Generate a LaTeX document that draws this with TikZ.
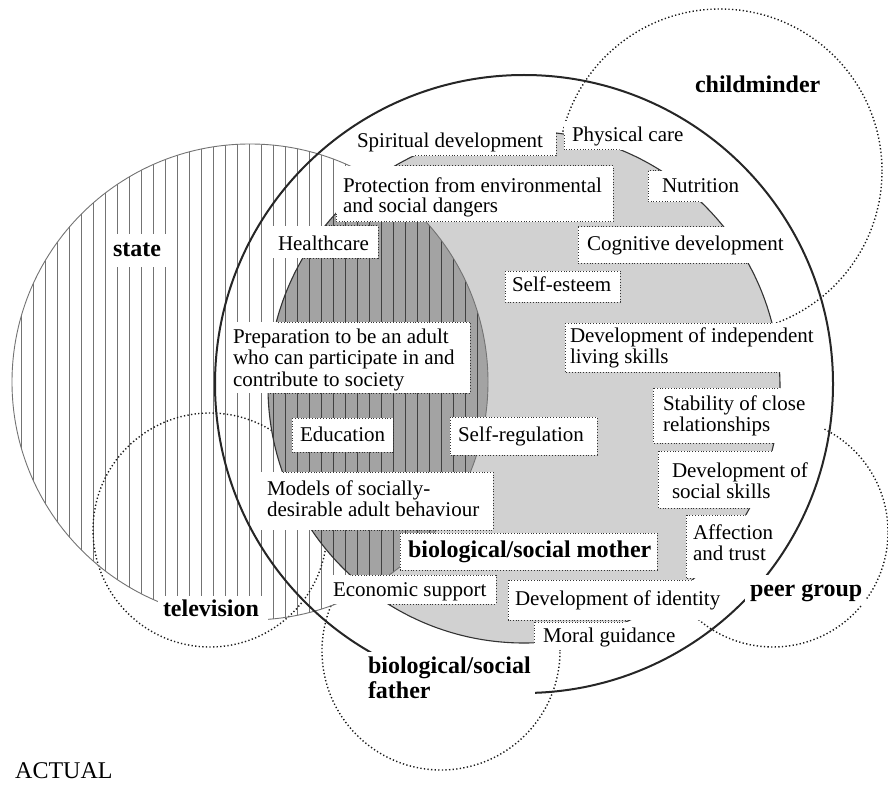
\documentclass[tikz,border=0pt]{standalone}
\usepackage{fontspec}
\setmainfont{Liberation Serif}
\newcommand\fnbox[5]{%
  \node[fbox, minimum width={(#4-#2)*1pt}, minimum height={(#5-#3)*1pt}] (#1) at (#2,#3) {};
  \begin{scope}\clip (524,387) circle[radius=256pt];
    \draw[bdr] (#1.north west) rectangle (#1.south east);
  \end{scope}}
\newcommand\whitebx[5]{%
  \node[fbox, minimum width={(#4-#2)*1pt}, minimum height={(#5-#3)*1pt}] (#1) at (#2,#3) {};}
\begin{document}
\begin{tikzpicture}[x=1pt,y=-1pt,
  mainc/.style={draw=black!85, line width=2pt},
  graycirc/.style={draw=black!80, line width=1.1pt},
  statec/.style={draw=black!55, line width=0.9pt},
  dotc/.style={draw=black!90, line width=1.4pt, dash pattern=on 1.3pt off 2.3pt},
  stripe/.style={draw=black!55, line width=0.9pt},
  fbox/.style={fill=white, inner sep=0pt, outer sep=0pt, anchor=north west, rectangle},
  bdr/.style={draw=black!80, line width=1pt, dash pattern=on 1pt off 1.8pt},
  tx/.style={anchor=base west, inner sep=0pt, outer sep=0pt, font=\fontsize{21pt}{21pt}\selectfont},
  bx/.style={anchor=base west, inner sep=0pt, outer sep=0pt, font=\fontsize{24pt}{24pt}\selectfont\bfseries},
]
\path[use as bounding box] (0,0) rectangle (888,786);
\fill[white] (0,0) rectangle (888,786);

% stripes of the state circle
\begin{scope}
  \clip (250,382) circle[radius=238pt];
  \foreach \x in {21.5,33.5,...,490} \draw[stripe] (\x,140) -- (\x,625);
\end{scope}

% dotted circles
\draw[dotc] (720,171) circle[radius=162pt];
\draw[dotc] (773,532) circle[radius=115pt];
\draw[dotc] (210,530) circle[radius=117pt];
\draw[dotc] (441,651) circle[radius=119pt];

% grey inner region
\fill[black!18] (524,387) circle[radius=256pt];
\begin{scope}
  \clip (250,382) circle[radius=238pt];
  \fill[black!36] (524,387) circle[radius=256pt];
  \clip (524,387) circle[radius=256pt];
  \foreach \x in {21.5,33.5,...,490} \draw[stripe, draw=black!75] (\x,140) -- (\x,625);
\end{scope}
\draw[statec] (250,382) circle[radius=238pt];
\draw[graycirc] (524,387) circle[radius=256pt];

% label boxes
\fnbox{b1}{350}{126}{556}{156}
\fnbox{b2}{564}{121}{694}{150}
\fnbox{b3}{336}{166}{613}{222}
\fnbox{b4}{648}{171}{750}{202}
\fnbox{b5}{272}{226}{378}{258}
\fnbox{b6}{578}{227}{796}{263}
\fnbox{b7}{505}{271}{620}{302}
\fnbox{b8}{226}{322}{470}{393}
\fnbox{b9}{565}{323}{826}{372}
\fnbox{b10}{653}{388}{823}{443}
\fnbox{b11}{292}{418}{393}{452}
\fnbox{b12}{450}{417}{597}{455}
\fnbox{b13}{658}{451}{816}{508}
\fnbox{b14}{261}{472}{493}{530}
\fnbox{b15}{686}{515}{782}{578}
\fnbox{b16}{400}{533}{657}{570}
\fnbox{b17}{327}{575}{496}{604}
\fnbox{b18}{508}{580}{732}{620}
\fnbox{b19}{534}{622}{685}{650}

% label texts
\node[tx] (t1) at (357,148) {Spiritual development};
\node[tx] (t2) at (572,142) {Physical care};
\node[tx] (t3a) at (343,193) {Protection from environmental};
\node[tx] (t3b) at (343,213) {and social dangers};
\node[tx] (t4) at (662,193) {Nutrition};
\node[tx] (t5) at (278,251) {Healthcare};
\node[tx] (t6) at (587,251) {Cognitive development};
\node[tx] (t7) at (512,291) {Self-esteem};
\node[tx] (t8a) at (233,343) {Preparation to be an adult};
\node[tx] (t8b) at (233,364) {who can participate in and};
\node[tx] (t8c) at (233,386) {contribute to society};
\node[tx] (t9a) at (570,342) {Development of independent};
\node[tx] (t9b) at (570,363) {living skills};
\node[tx] (t10a) at (663,410) {Stability of close};
\node[tx] (t10b) at (663,431) {relationships};
\node[tx] (t11) at (300,441) {Education};
\node[tx] (t12) at (458,441) {Self-regulation};
\node[tx] (t13a) at (672,477) {Development of};
\node[tx] (t13b) at (672,498) {social skills};
\node[tx] (t14a) at (267,495) {Models of socially-};
\node[tx] (t14b) at (267,516) {desirable adult behaviour};
\node[tx] (t15a) at (693,539) {Affection};
\node[tx] (t15b) at (693,560) {and trust};
\node[bx] (t16) at (408,557) {biological/social mother};
\node[tx] (t17) at (333,596) {Economic support};
\node[tx] (t18) at (515,605) {Development of identity};
\node[tx] (t19) at (543,642) {Moral guidance};

% mother circle
\draw[mainc] (524,384) circle[radius=309pt];

% outer labels
\whitebx{w1}{107}{234}{167}{267}
\node[bx] (l1) at (113,257) {state};
\whitebx{w2}{158}{596}{268}{624}
\node[bx] (l2) at (163,616) {television};
\whitebx{w3}{745}{575}{866}{605}
\node[bx] (l3) at (750,596) {peer group};
\whitebx{w4}{362}{652}{535}{705}
\node[bx] (l4a) at (368,673) {biological/social};
\node[bx] (l4b) at (368,698) {father};
\node[bx] (l5) at (695,93) {childminder};
\node[anchor=base west, inner sep=0pt, font=\fontsize{24pt}{24pt}\selectfont] (l6) at (15,778) {ACTUAL};
\end{tikzpicture}
\end{document}
